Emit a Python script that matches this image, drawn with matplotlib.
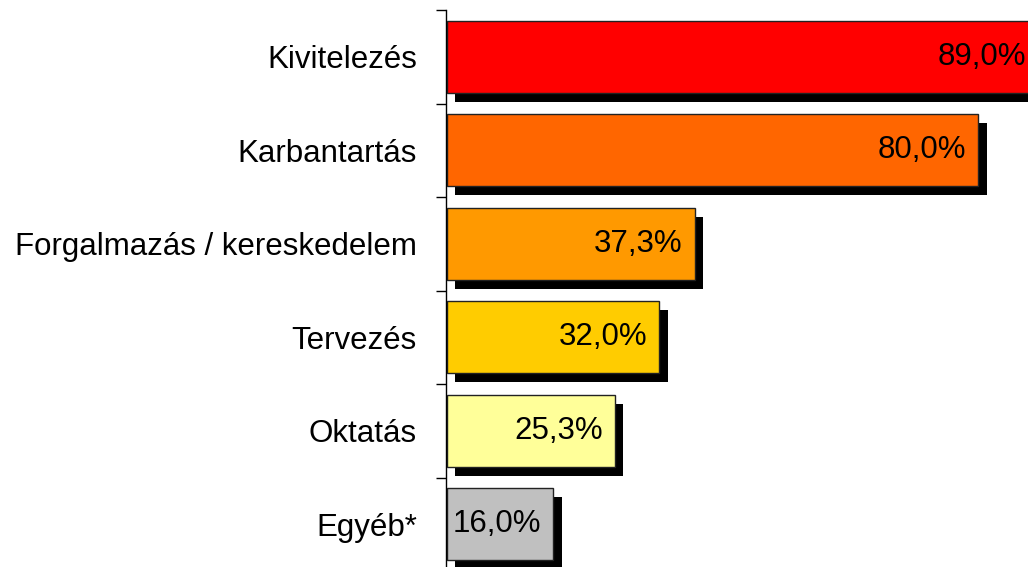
import matplotlib
matplotlib.use('Agg')
import matplotlib.pyplot as plt
import matplotlib.patheffects as pe
from matplotlib.ticker import FixedLocator

plt.rcParams['font.family'] = ['Liberation Sans', 'DejaVu Sans']

# data
categories = ['Kivitelezés', 'Karbantartás', 'Forgalmazás / kereskedelem',
              'Tervezés', 'Oktatás', 'Egyéb*']
values = [89.0, 80.0, 37.3, 32.0, 25.3, 16.0]
labels = ['89,0%', '80,0%', '37,3%', '32,0%', '25,3%', '16,0%']
colors = ['#FF0000', '#FF6600', '#FF9900', '#FFCC00', '#FFFF99', '#C0C0C0']

W, H = 1028, 567
fig = plt.figure(figsize=(W / 100, H / 100), dpi=100)
# axes: left spine at x=446px, top at y=10px, 6 slots of ~93.5px
ax = fig.add_axes([446 / W, 1 - 571 / H, 1 - 446 / W, 561 / H])

pos = list(range(len(categories)))
shadow = [pe.SimplePatchShadow(offset=(6, -6.5), shadow_rgbFace='black', alpha=1.0), pe.Normal()]
bars = ax.barh(pos, values, height=0.77, color=colors, edgecolor='#222222',
               linewidth=1.0, left=0.15)
for b in bars:
    b.set_path_effects(shadow)

for p, v, lab in zip(pos, values, labels):
    ax.annotate(lab, xy=(v, p), xytext=(-8, 0), textcoords='offset points',
                ha='right', va='center', fontsize=22.5, color='black',
                annotation_clip=False)

ax.set_xlim(0, (W - 446) / 6.64)
ax.set_ylim(len(categories) - 0.5, -0.5)

for s in ['top', 'right', 'bottom']:
    ax.spines[s].set_visible(False)
ax.spines['left'].set_linewidth(1.0)
ax.spines['left'].set_color('black')

ax.set_xticks([])
ax.set_yticks(pos)
ax.set_yticklabels(categories, fontsize=22.5)
ax.tick_params(axis='y', which='major', length=0, pad=21)
ax.yaxis.set_minor_locator(FixedLocator([p - 0.5 for p in pos] + [len(pos) - 0.5]))
ax.tick_params(axis='y', which='minor', length=7.2, width=1.0, color='black')

fig.savefig('out.png', dpi=100)
